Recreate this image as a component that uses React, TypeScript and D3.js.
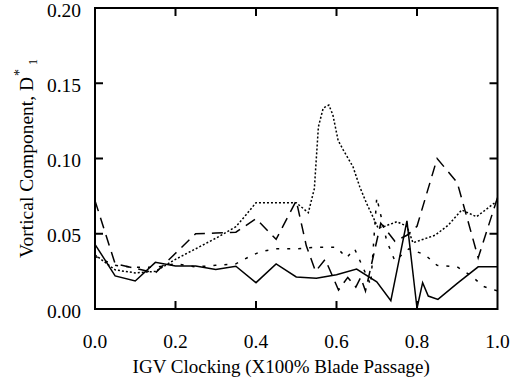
import React from 'react';
import * as d3 from 'd3';

// Tick values
const xTickValues = [0, 0.2, 0.4, 0.6, 0.8, 1.0];
const yTickValues = [0, 0.05, 0.1, 0.15, 0.2];

// Series A (solid)
const xA = [0, 0.05, 0.1, 0.15, 0.2, 0.25, 0.3, 0.35, 0.4, 0.45, 0.5, 0.55, 0.6, 0.65, 0.7, 0.735, 0.775, 0.8, 0.814, 0.828, 0.852, 0.9, 0.952, 1.0];
const yA = [0.043, 0.022, 0.0186, 0.031, 0.0286, 0.0286, 0.0262, 0.0284, 0.0175, 0.030, 0.0213, 0.0204, 0.0228, 0.0265, 0.018, 0.0055, 0.0585, 0.0005, 0.0175, 0.0086, 0.0064, 0.017, 0.028, 0.028];

// Series B (long dashed)
const xB = [0, 0.05, 0.1, 0.15, 0.2, 0.25, 0.3, 0.35, 0.4, 0.45, 0.5, 0.525, 0.548, 0.572, 0.605, 0.628, 0.648, 0.66, 0.672, 0.71, 0.745, 0.775, 0.8, 0.85, 0.9, 0.952, 1.0];
const yB = [0.072, 0.030, 0.027, 0.024, 0.037, 0.050, 0.0505, 0.051, 0.060, 0.0463, 0.072, 0.042, 0.025, 0.033, 0.0126, 0.021, 0.0146, 0.021, 0.012, 0.057, 0.045, 0.049, 0.055, 0.100, 0.084, 0.034, 0.074];

// Series C (fine dotted)
const xC = [0, 0.05, 0.1, 0.15, 0.2, 0.25, 0.3, 0.35, 0.375, 0.4, 0.45, 0.5, 0.53, 0.545, 0.555, 0.567, 0.581, 0.591, 0.604, 0.617, 0.641, 0.658, 0.675, 0.691, 0.703, 0.72, 0.75, 0.775, 0.79, 0.845, 0.878, 0.911, 0.948, 1.0];
const yC = [0.036, 0.026, 0.024, 0.025, 0.033, 0.040, 0.047, 0.0547, 0.0625, 0.0706, 0.0706, 0.0706, 0.064, 0.08, 0.121, 0.1335, 0.1355, 0.129, 0.112, 0.1056, 0.0945, 0.081, 0.070, 0.061, 0.054, 0.055, 0.058, 0.055, 0.044, 0.049, 0.0558, 0.0658, 0.0613, 0.072];

// Series D (sparse dotted)
const xD = [0, 0.05, 0.1, 0.15, 0.2, 0.25, 0.3, 0.35, 0.385, 0.41, 0.45, 0.5, 0.55, 0.6, 0.625, 0.645, 0.665, 0.685, 0.70, 0.725, 0.745, 0.78, 0.82, 0.85, 0.9, 0.935, 0.965, 1.0];
const yD = [0.035, 0.029, 0.0277, 0.0277, 0.030, 0.028, 0.029, 0.030, 0.035, 0.038, 0.040, 0.040, 0.041, 0.041, 0.034, 0.040, 0.028, 0.016, 0.074, 0.045, 0.032, 0.040, 0.036, 0.029, 0.028, 0.022, 0.015, 0.012];

const xTitle = 'IGV Clocking (X100% Blade Passage)';
const yTitle = 'Vortical Component, D';

const FONT = "'Liberation Serif', 'Times New Roman', 'Nimbus Roman', 'Nimbus Roman No9 L', FreeSerif, 'Noto Serif', 'DejaVu Serif', Tinos, serif";

export default function App() {
  const W = 519, H = 379;
  const L = 95, R = 497.5, T = 8, B = 309;
  const x = d3.scaleLinear().domain([0, 1]).range([L, R]);
  const y = d3.scaleLinear().domain([0, 0.2]).range([B, T]);
  const line = d3.line<[number, number]>().x(d => x(d[0])).y(d => y(d[1]));
  const mk = (xs: number[], ys: number[]) => line(xs.map((v, i) => [v, ys[i]] as [number, number])) || '';
  const series = [
    { d: mk(xA, yA), dash: undefined as string | undefined },
    { d: mk(xB, yB), dash: '11,7' },
    { d: mk(xC, yC), dash: '2,2' },
    { d: mk(xD, yD), dash: '3,8' },
  ];
  const fx = d3.format('.1f');
  const fy = d3.format('.2f');
  const tl = 8;
  const txt = { fontFamily: FONT };
  return (
    <svg width={W} height={H} style={{ position: 'absolute', left: 0, top: 0, background: '#fff' }}>
      <rect x={0} y={0} width={W} height={H} fill="#fff" />
      <g fill="none" stroke="#000" strokeWidth={1.5} strokeLinejoin="miter">
        {series.map((s, i) => (
          <path key={i} d={s.d} strokeDasharray={s.dash} />
        ))}
      </g>
      <rect x={L} y={T} width={R - L} height={B - T} fill="none" stroke="#000" strokeWidth={2} />
      <g stroke="#000" strokeWidth={2}>
        {xTickValues.filter(v => v > 0 && v < 1).map(v => (
          <g key={'xt' + v}>
            <line x1={x(v)} x2={x(v)} y1={B} y2={B - tl} />
            <line x1={x(v)} x2={x(v)} y1={T} y2={T + tl} />
          </g>
        ))}
        {yTickValues.filter(v => v > 0 && v < 0.2).map(v => (
          <g key={'yt' + v}>
            <line x1={L} x2={L + tl} y1={y(v)} y2={y(v)} />
            <line x1={R} x2={R - tl} y1={y(v)} y2={y(v)} />
          </g>
        ))}
      </g>
      <g style={{ ...txt, fontSize: '19.5px' }} fill="#000">
        {xTickValues.map(v => (
          <text key={'xl' + v} x={x(v)} y={348} textAnchor="middle">{fx(v)}</text>
        ))}
        {yTickValues.map(v => (
          <text key={'yl' + v} x={81} y={y(v) + 8.7} textAnchor="end">{fy(v)}</text>
        ))}
      </g>
      <text x={(L + R) / 2 - 15} y={373} textAnchor="middle" style={{ ...txt, fontSize: '19px' }} fill="#000">{xTitle}</text>
      <text transform={`translate(33,${(T + B) / 2}) rotate(-90)`} textAnchor="middle" style={{ ...txt, fontSize: '19.5px' }} fill="#000">
        {yTitle}
        <tspan style={{ fontSize: '14px' }} dy={-9} dx={1}>*</tspan>
        <tspan style={{ fontSize: '12px' }} dy={13} dx={4}>1</tspan>
      </text>
    </svg>
  );
}
